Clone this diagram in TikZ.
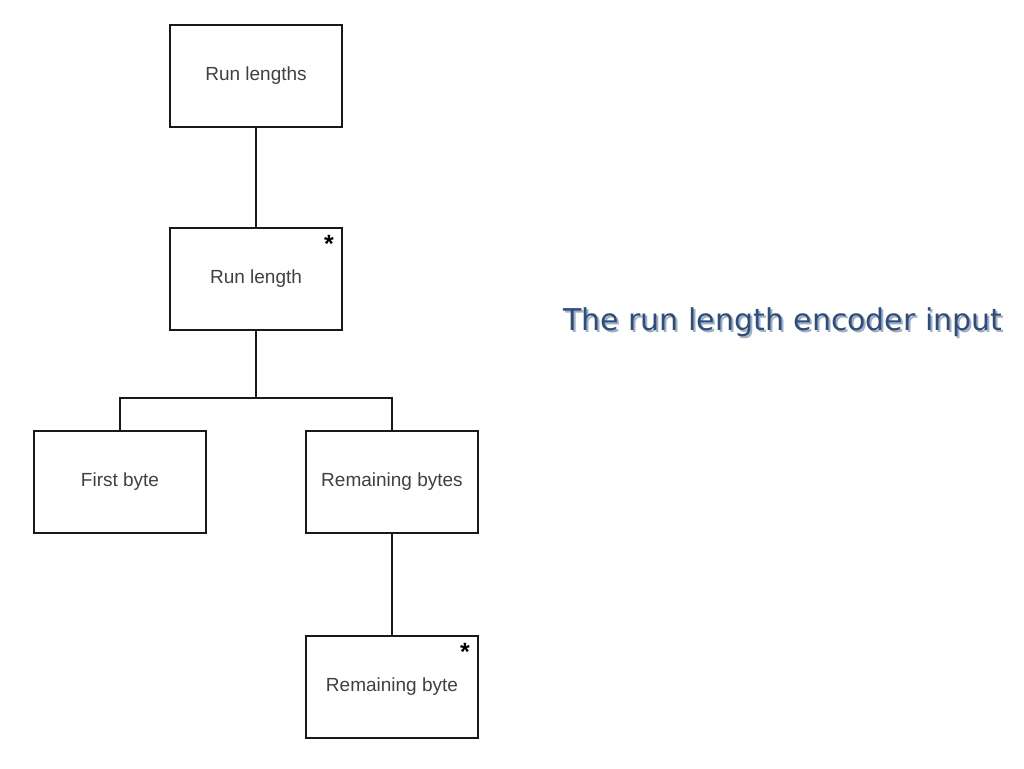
\documentclass[tikz,border=0pt]{standalone}
\usepackage{fontspec}
\setmainfont{Liberation Sans}
\newfontfamily\titlefont{DejaVu Sans}
\begin{document}
\begin{tikzpicture}[x=1pt,y=-1pt,
  box/.style={draw=black!90,line width=2pt,minimum width=172pt,minimum height=102pt,inner sep=0pt,text=black!75,font=\fontsize{19}{22}\selectfont},
  conn/.style={draw=black!90,line width=1.8pt},
  star/.style={inner sep=0pt,font=\fontsize{25}{25}\bfseries\selectfont}]
\useasboundingbox (0,0) rectangle (1024,768);
\node[box] (rls) at (256,76) {Run lengths};
\node[box] (rl) at (256,279) {Run length};
\node[box] (fb) at (120,482) {First byte};
\node[box] (rbs) at (392,482) {Remaining bytes};
\node[box] (rb) at (392,687) {Remaining byte};
\node[star] (s1) at (329,244) {*};
\node[star] (s2) at (465,652) {*};
\coordinate (j) at (256,398);
\draw[conn] (rls.south) -- (rl.north);
\draw[conn] (rl.south) -- (j);
\draw[conn] (fb.north) |- (j) -| (rbs.north);
\draw[conn] (rbs.south) -- (rb.north);
\node[anchor=base west,inner sep=0pt,text={rgb,255:red,165;green,174;blue,190},font=\titlefont\fontsize{30}{34}\selectfont] (tshadow) at (565,332) {The run length encoder input};
\node[anchor=base west,inner sep=0pt,text={rgb,255:red,44;green,78;blue,126},font=\titlefont\fontsize{30}{34}\selectfont] (title) at (563,330) {The run length encoder input};
\end{tikzpicture}
\end{document}
